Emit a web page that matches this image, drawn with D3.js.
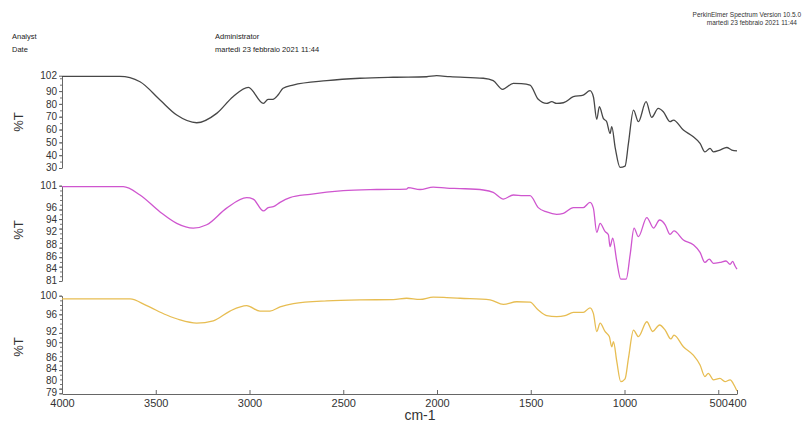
<!DOCTYPE html>
<html><head><meta charset="utf-8">
<script src="https://cdn.jsdelivr.net/npm/d3@7"></script>
<style>
body{margin:0;background:#fff;}
svg{display:block;font-family:"Liberation Sans",Arial,sans-serif;}
</style></head><body>
<svg id="chart" width="805" height="425"></svg>
<script>
// ---- Data ----
const xTicks = [4000, 3500, 3000, 2500, 2000, 1500, 1000, 500, 400];

const topWn = [4000,3691,3584,3477,3388,3282,3175,3088,3006,2926,2901,2875,2848,2821,2768,2588,2411,2235,2055,2002,1931,1753,1700,1650,1593,1550,1504,1460,1415,1388,1362,1326,1273,1220,1184,1166,1148,1134,1113,1095,1077,1068,1049,1024,997,979,952,926,885,855,820,793,757,739,686,633,597,571,544,526,491,455,428,400];
const topT  = [101.5,101.5,97.3,83,71.3,65.3,72.6,85.6,92.9,80.4,83.6,83.6,86.9,92.2,94.7,98.1,100,100.8,101.2,102,101.2,100,98.1,91.4,96,95.8,94.7,83.6,80.4,81.7,80.4,80.9,85.6,86.9,90.3,85.6,68,77.8,68.7,66.1,57,62.2,45.3,30.5,31.5,49.2,75.2,66.1,81.7,69.5,76.5,73.9,66.1,67.4,59.6,54.3,49.2,42.6,45.3,42.6,44,46,44,43.4];
const topTicks = [102, 90, 80, 70, 60, 50, 40, 30];

const midWn = [4000,3673,3584,3477,3388,3300,3228,3122,3015,2980,2926,2900,2873,2837,2784,2677,2500,2322,2162,2153,2091,2020,1948,1877,1753,1700,1646,1593,1540,1504,1460,1415,1362,1326,1273,1220,1184,1166,1148,1130,1104,1086,1077,1063,1041,1020,991,970,949,926,881,845,813,783,757,736,686,633,597,571,548,526,491,459,437,423,411,400];
const midT  = [100.8,100.8,99.05,95.5,93.1,92.1,92.8,96.3,98.5,98.2,95.7,96.4,96.6,97.5,98.5,99.2,99.95,100.2,100.3,100.6,100.2,100.7,100.5,100.4,100.1,99.6,98.2,99.05,98.9,98.9,96.4,95.5,95,95.2,96.4,96.4,97.5,96.3,91.2,93.1,91.4,90.7,88.2,90,85.1,81.4,81.4,86.5,92.1,90.3,94.3,92.1,93.8,92.8,90.8,91.5,89.6,88.6,87,84.9,85.6,84.7,84.9,85.2,84.5,85.1,84.2,83.5];
const midTicks = [101, 96, 94, 92, 88, 86, 84, 81];

const botWn = [4000,3637,3548,3442,3371,3282,3193,3104,3015,2944,2891,2837,2766,2588,2411,2233,2162,2091,2020,1948,1877,1717,1646,1575,1504,1460,1415,1362,1317,1273,1220,1184,1166,1148,1130,1104,1081,1068,1059,1041,1020,997,979,952,926,881,850,813,783,753,736,686,633,597,571,553,526,491,464,437,411,400];
const botT  = [99.3,99.3,97.85,95.85,94.8,94.1,94.6,96.7,97.85,96.7,96.7,97.6,98.3,98.9,99.1,99.15,99.45,99.2,99.7,99.6,99.45,99.1,98.15,98.7,98.6,96.9,95.7,95.5,95.7,96.4,96.4,97.4,96.2,92.3,94.1,92.3,91.2,89,90.1,85.8,81.5,82.1,86.5,92.6,91.2,94.4,92.3,93.7,92.6,90.7,91.5,89,87.2,85.1,82.6,83.3,81.9,82.2,81.5,81.9,80.4,79.5];
const botTicks = [100, 96, 92, 90, 86, 84, 80, 79];

const headerLeft = [["Analyst", "Administrator"], ["Date", "martedì 23 febbraio 2021 11:44"]];
const headerRight = ["PerkinElmer Spectrum Version 10.5.0", "martedì 23 febbraio 2021 11:44"];
const xLabel = "cm-1";
const yLabel = "%T";

// ---- Layout ----
const svg = d3.select("#chart");
const x = d3.scaleLinear().domain([4000, 400]).range([62, 737]);

const panels = [
  {wn: topWn, t: topT, ticks: topTicks, domain: [30, 102], range: [168, 75.7], color: "#474747", minorStep: 5, lab: 122},
  {wn: midWn, t: midT, ticks: midTicks, domain: [81, 101], range: [281, 185.7], color: "#cf56cf", minorStep: 1, lab: 230},
  {wn: botWn, t: botT, ticks: botTicks, domain: [79, 100], range: [393.3, 295.7], color: "#e7bd52", minorStep: 1, lab: 347}
];

// header
const hl = svg.append("g").attr("font-size", 7.5).attr("fill", "#222");
headerLeft.forEach((row, i) => {
  hl.append("text").attr("x", 12).attr("y", 39 + i * 13).text(row[0]);
  hl.append("text").attr("x", 215).attr("y", 39 + i * 13).text(row[1]);
});
const hr = svg.append("g").attr("font-size", 6.5).attr("fill", "#333").attr("text-anchor", "end");
headerRight.forEach((t, i) => {
  hr.append("text").attr("x", i === 0 ? 801 : 797).attr("y", 17 + i * 8).text(t);
});

// spread label positions so they don't overlap (like the instrument software does)
function spread(pos, lo, hi, gap) {
  const p = pos.slice();
  for (let it = 0; it < 200; it++) {
    let moved = false;
    const order = d3.range(p.length).sort((a, b) => p[a] - p[b]);
    for (let k = 0; k < order.length - 1; k++) {
      const a = order[k], b = order[k + 1];
      const d = p[b] - p[a];
      if (d < gap - 0.01) {
        const push = (gap - d) / 2;
        p[a] -= push; p[b] += push; moved = true;
      }
    }
    for (let i = 0; i < p.length; i++) p[i] = Math.max(lo, Math.min(hi, p[i]));
    if (!moved) break;
  }
  return p;
}

panels.forEach(p => {
  const y = d3.scaleLinear().domain(p.domain).range(p.range);
  // minor ticks
  const minor = d3.range(Math.ceil(p.domain[0] / p.minorStep) * p.minorStep, p.domain[1] + 0.001, p.minorStep);
  svg.append("g").attr("transform", "translate(62,0)")
    .call(d3.axisLeft(y).tickValues(minor).tickSize(2).tickFormat(""))
    .call(g => g.select(".domain").remove())
    .call(g => g.selectAll("line").attr("stroke", "#777"));
  const ax = svg.append("g").attr("transform", "translate(62,0)")
    .call(d3.axisLeft(y).tickValues(p.ticks).tickSize(3).tickSizeOuter(0).tickPadding(2).tickFormat(d3.format("d")));
  ax.select(".domain").attr("stroke", "#666");
  ax.selectAll("line").attr("stroke", "#666");
  const tpos = p.ticks.map(v => y(v));
  const lpos = spread(tpos, p.range[1], p.range[0] - 1, 11.8);
  ax.selectAll(".tick text")
    .attr("font-size", 10).attr("fill", "#333").attr("font-family", "'Liberation Sans',Arial,sans-serif")
    .attr("y", (d, i) => lpos[i] - tpos[i]);

  const line = d3.line()
    .x((d, i) => x(p.wn[i]))
    .y(d => y(d))
    .curve(d3.curveMonotoneX);
  svg.append("path").datum(p.t)
    .attr("d", line)
    .attr("fill", "none")
    .attr("stroke", p.color)
    .attr("stroke-width", 1.3)
    .attr("stroke-linejoin", "round");

  svg.append("text")
    .attr("transform", `translate(23,${p.lab}) rotate(-90)`)
    .attr("text-anchor", "middle")
    .attr("font-size", 13).attr("fill", "#333")
    .text(yLabel);
});

// x axis
const xa = svg.append("g").attr("transform", "translate(0,394)")
  .call(d3.axisBottom(x).tickValues(xTicks).tickSize(-4).tickSizeOuter(0).tickPadding(5).tickFormat(d3.format("d")));
xa.select(".domain").attr("stroke", "#666");
xa.selectAll("line").attr("stroke", "#666");
xa.selectAll("text").attr("font-size", 11).attr("fill", "#333").attr("font-family", "'Liberation Sans',Arial,sans-serif");

svg.append("text").attr("x", 420).attr("y", 420).attr("text-anchor", "middle")
  .attr("font-size", 14).attr("fill", "#333").text(xLabel);
</script>
</body></html>
